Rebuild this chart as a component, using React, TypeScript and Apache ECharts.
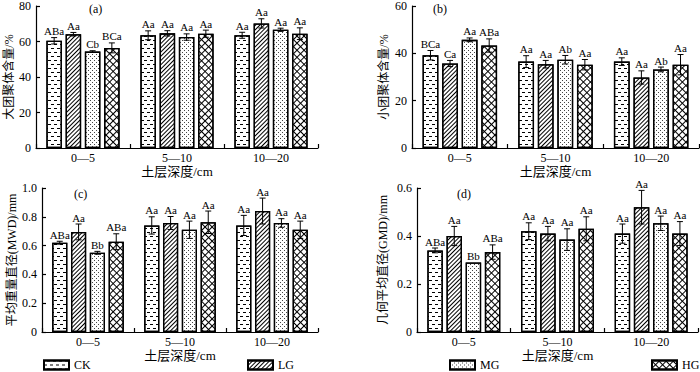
import React, { useEffect, useRef } from 'react';
import * as echarts from 'echarts';

// ---------- data ----------
const categories = ['0—5', '5—10', '10—20'];
const treatments = ['CK', 'LG', 'MG', 'HG'];

// (a) macro-aggregate content /%
const macroValues = [
  [60.4, 63.5, 63.5],
  [64.1, 64.6, 70.2],
  [54.3, 62.5, 66.6],
  [56.4, 64.4, 64.4],
];
const macroErrors = [
  [1.8, 2.5, 1.7],
  [1.0, 1.5, 2.6],
  [0.5, 1.8, 0.9],
  [2.8, 2.0, 3.3],
];
const macroLabels = [
  ['ABa', 'Aa', 'Aa'],
  ['Aa', 'Aa', 'Aa'],
  ['Cb', 'Aa', 'Aa'],
  ['BCa', 'Aa', 'Aa'],
];

// (b) micro-aggregate content /%
const microValues = [
  [39.2, 36.5, 36.5],
  [35.7, 35.4, 29.8],
  [45.7, 37.3, 33.2],
  [43.3, 35.2, 35.2],
];
const microErrors = [
  [2.0, 2.5, 1.6],
  [1.3, 1.6, 2.8],
  [0.8, 1.8, 1.0],
  [2.8, 2.2, 4.3],
];
const microLabels = [
  ['BCa', 'Aa', 'Aa'],
  ['Ca', 'Aa', 'Aa'],
  ['Aa', 'Ab', 'Ab'],
  ['ABa', 'Aa', 'Aa'],
];

// (c) MWD /mm
const mwdValues = [
  [0.62, 0.74, 0.74],
  [0.695, 0.757, 0.84],
  [0.55, 0.71, 0.757],
  [0.627, 0.762, 0.71],
];
const mwdErrors = [
  [0.01, 0.06, 0.07],
  [0.055, 0.045, 0.09],
  [0.01, 0.06, 0.03],
  [0.055, 0.078, 0.06],
];
const mwdLabels = [
  ['ABa', 'Aa', 'Aa'],
  ['Aa', 'Aa', 'Aa'],
  ['Bb', 'Aa', 'Aa'],
  ['ABa', 'Aa', 'Aa'],
];

// (d) GMD /mm
const gmdValues = [
  [0.34, 0.42, 0.41],
  [0.4, 0.41, 0.52],
  [0.29, 0.385, 0.453],
  [0.333, 0.43, 0.41],
];
const gmdErrors = [
  [0.01, 0.035, 0.04],
  [0.04, 0.03, 0.07],
  [0, 0.045, 0.03],
  [0.03, 0.05, 0.05],
];
const gmdLabels = [
  ['ABa', 'Aa', 'Aa'],
  ['Aa', 'Aa', 'Aa'],
  ['Bb', 'Aa', 'Aa'],
  ['ABa', 'Aa', 'Aa'],
];

const yMax = [80, 60, 1.0, 0.6];
const yInterval = [20, 20, 0.2, 0.2];
const yNames = ['大团聚体含量/%', '小团聚体含量/%', '平均重量直径(MWD)/mm', '几何平均直径(GMD)/mm'];
const panelTags = ['(a)', '(b)', '(c)', '(d)'];
const xName = '土层深度/cm';

// ---------- layout / style ----------
const SERIF = '"Liberation Serif", "Times New Roman", "Noto Sans CJK SC", serif';
const grids = [
  { left: 36, top: 5, width: 282, height: 143 },
  { left: 412, top: 5, width: 287, height: 143 },
  { left: 42, top: 188, width: 276, height: 144 },
  { left: 417, top: 188, width: 281, height: 144 },
];
const yNameGaps = [20, 22, 24, 28];
const xNameGaps = [17, 17, 13, 13];
const tagPos = [
  [89, 3],
  [433, 3],
  [74, 188],
  [457, 188],
];
const legendLefts = [43, 247, 449, 651];
const BAR_W = 0.165;
const BAR_GAP = 0.24;

const decals: any[] = [
  { symbol: 'rect', symbolSize: 1, color: '#000', dashArrayX: [[3, 3], [0, 3, 3, 0]], dashArrayY: [1, 3] },
  { symbol: 'rect', symbolSize: 1, color: '#000', dashArrayX: [1, 0], dashArrayY: [1, 2], rotation: -Math.PI / 4 },
  { symbol: 'rect', symbolSize: 1, color: '#444', dashArrayX: [[1, 3], [0, 2, 1, 1]], dashArrayY: [1, 1] },
  { symbol: 'rect', symbolSize: 1, color: '#000', dashArrayX: [[5, 0], [1, 4]], dashArrayY: [1, 0, 4, 0], rotation: Math.PI / 4 },
];

const panelsData = [
  { values: macroValues, errors: macroErrors, labels: macroLabels },
  { values: microValues, errors: microErrors, labels: microLabels },
  { values: mwdValues, errors: mwdErrors, labels: mwdLabels },
  { values: gmdValues, errors: gmdErrors, labels: gmdLabels },
];

function buildOption() {
  const series: any[] = [];
  panelsData.forEach((pd, p) => {
    treatments.forEach((t, s) => {
      series.push({
        type: 'bar',
        name: t,
        xAxisIndex: p,
        yAxisIndex: p,
        data: pd.values[s],
        barWidth: (BAR_W * 100).toFixed(2) + '%',
        barGap: (BAR_GAP * 100).toFixed(0) + '%',
        itemStyle: { color: '#fff', borderColor: '#000', borderWidth: 1.3, decal: decals[s] },
        emphasis: { disabled: true },
      });
    });
    const items: number[][] = [];
    treatments.forEach((_, s) => {
      categories.forEach((_c, c) => {
        items.push([c, pd.values[s][c], pd.errors[s][c], s]);
      });
    });
    series.push({
      type: 'custom',
      xAxisIndex: p,
      yAxisIndex: p,
      z: 10,
      silent: true,
      data: items,
      renderItem: (params: any, api: any) => {
        const c = api.value(0);
        const v = api.value(1);
        const e = api.value(2);
        const s = api.value(3);
        const cw = api.size([1, 0])[0];
        const bw = cw * BAR_W;
        const gap = bw * BAR_GAP;
        const total = 4 * bw + 3 * gap;
        const x = api.coord([c, 0])[0] - total / 2 + bw / 2 + s * (bw + gap);
        const yTop = api.coord([c, v + e])[1];
        const yBot = api.coord([c, v - e])[1];
        const cap = 3;
        const ls = { stroke: '#000', lineWidth: 1 };
        const children: any[] = [];
        if (e > 0) {
          children.push({ type: 'line', shape: { x1: x, y1: yTop, x2: x, y2: yBot }, style: ls });
          children.push({ type: 'line', shape: { x1: x - cap, y1: yTop, x2: x + cap, y2: yTop }, style: ls });
          children.push({ type: 'line', shape: { x1: x - cap, y1: yBot, x2: x + cap, y2: yBot }, style: ls });
        }
        children.push({
          type: 'text',
          style: {
            text: pd.labels[s][c],
            x,
            y: yTop - 1,
            textAlign: 'center',
            textVerticalAlign: 'bottom',
            font: '11px ' + SERIF,
            fill: '#000',
          },
        });
        return { type: 'group', children };
      },
    });
  });

  const axisLineStyle = { color: '#000', width: 1.2 };

  return {
    animation: false,
    backgroundColor: '#fff',
    grid: grids.map((g) => ({ ...g, containLabel: false })),
    xAxis: grids.map((_, p) => ({
      type: 'category',
      gridIndex: p,
      data: categories,
      name: xName,
      nameLocation: 'middle',
      nameGap: xNameGaps[p],
      nameTextStyle: { color: '#000', fontSize: 13, fontFamily: SERIF },
      axisLine: { show: true, lineStyle: axisLineStyle },
      axisTick: { show: true, inside: true, length: 4, lineStyle: { color: '#000', width: 1.2 } },
      axisLabel: { color: '#000', fontSize: 12, fontFamily: SERIF, margin: 4, interval: 0 },
      splitLine: { show: false },
    })),
    yAxis: grids.map((_, p) => ({
      type: 'value',
      gridIndex: p,
      min: 0,
      max: yMax[p],
      interval: yInterval[p],
      name: yNames[p],
      nameLocation: 'middle',
      nameRotate: 90,
      nameGap: yNameGaps[p],
      nameTextStyle: { color: '#000', fontSize: 12, fontFamily: SERIF },
      axisLine: { show: true, lineStyle: axisLineStyle },
      axisTick: { show: true, inside: true, length: 4, lineStyle: { color: '#000', width: 1.2 } },
      axisLabel: {
        color: '#000',
        fontSize: 12,
        fontFamily: SERIF,
        margin: 5,
        formatter: (v: number) => (v === 0 ? '0' : yMax[p] >= 10 ? String(Math.round(v)) : v.toFixed(1)),
      },
      splitLine: { show: false },
    })),
    legend: treatments.map((t, i) => ({
      data: [t],
      left: legendLefts[i],
      top: 359,
      padding: 0,
      icon: 'rect',
      itemWidth: 25,
      itemHeight: 9,
      selectedMode: false,
      textStyle: { color: '#000', fontSize: 12, lineHeight: 12, fontFamily: SERIF },
    })),
    graphic: panelTags.map((tag, p) => ({
      type: 'text',
      left: tagPos[p][0],
      top: tagPos[p][1],
      style: { text: tag, font: '12px ' + SERIF, fill: '#000' },
    })),
    series,
  };
}

export default function App() {
  const ref = useRef<HTMLDivElement>(null);
  useEffect(() => {
    if (!ref.current) return;
    const chart = echarts.init(ref.current, undefined, { renderer: 'svg' });
    chart.setOption(buildOption() as any);
    return () => chart.dispose();
  }, []);
  return (
    <div
      ref={ref}
      style={{ position: 'absolute', left: 0, top: 0, width: 700, height: 372, background: '#fff' }}
    />
  );
}
